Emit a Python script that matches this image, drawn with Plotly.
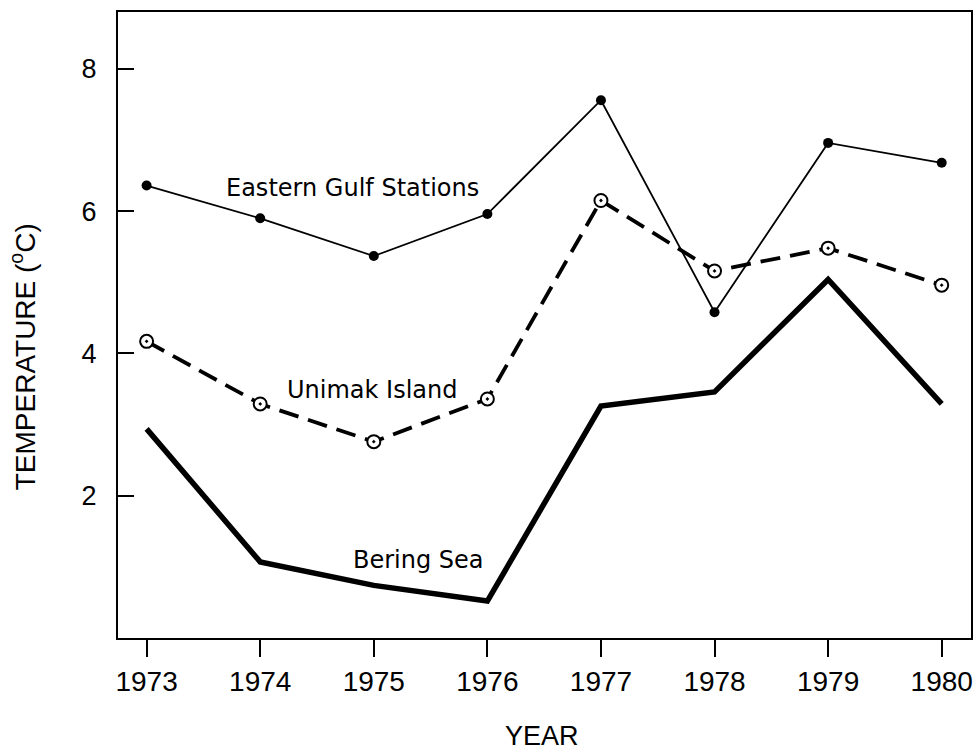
import plotly.graph_objects as go

years = [1973, 1974, 1975, 1976, 1977, 1978, 1979, 1980]
eastern_gulf = [6.36, 5.90, 5.37, 5.96, 7.56, 4.58, 6.96, 6.68]
unimak_island = [4.17, 3.29, 2.76, 3.36, 6.15, 5.16, 5.48, 4.96]
bering_sea = [2.94, 1.07, 0.74, 0.52, 3.26, 3.46, 5.04, 3.29]

series_labels = ["Eastern Gulf Stations", "Unimak Island", "Bering Sea"]
label_pos = [(1974.81, 6.33), (1974.98, 3.49), (1975.39, 1.09)]
y_ticks = [2, 4, 6, 8]

fig = go.Figure()
fig.add_trace(go.Scatter(x=years, y=bering_sea, mode="lines",
                         line=dict(color="black", width=5.5)))
fig.add_trace(go.Scatter(x=years, y=unimak_island, mode="lines+markers",
                         line=dict(color="black", width=3.8, dash="20px,10px"),
                         marker=dict(symbol="circle-dot", size=13, color="white",
                                     line=dict(color="black", width=2))))
fig.add_trace(go.Scatter(x=years, y=eastern_gulf, mode="lines+markers",
                         line=dict(color="black", width=1.8),
                         marker=dict(symbol="circle", size=10, color="black")))

for txt, (x, y) in zip(series_labels, label_pos):
    fig.add_annotation(x=x, y=y, text=txt, showarrow=False, xanchor="center", yanchor="middle",
                       font=dict(family="DejaVu Sans", size=24, color="black"))

# axis titles
fig.add_annotation(xref="paper", yref="paper", x=0.497, y=-0.1565, text="YEAR",
                   showarrow=False, xanchor="center", yanchor="middle",
                   font=dict(family="Liberation Sans, Arial", size=27, color="black"))
fig.add_annotation(xref="paper", yref="paper", x=-0.111, y=0.449,
                   text="TEMPERATURE (<sup>o</sup>C)", textangle=-90,
                   showarrow=False, xanchor="center", yanchor="middle",
                   font=dict(family="Liberation Sans, Arial", size=28, color="black"))

fig.update_layout(
    width=978, height=754,
    margin=dict(l=118, r=5, t=12, b=116),
    paper_bgcolor="white", plot_bgcolor="white",
    showlegend=False,
    font=dict(family="Liberation Sans, Arial", color="black"),
)
fig.update_xaxes(range=[1972.748, 1980.258], tickvals=years, ticktext=[str(y) for y in years],
                 ticks="outside", ticklen=17, tickwidth=2, tickcolor="black",
                 showline=True, linecolor="black", linewidth=2, mirror=True,
                 showgrid=False, zeroline=False,
                 tickfont=dict(size=28), ticklabelstandoff=0)
fig.update_yaxes(range=[0, 8.8], tickvals=y_ticks,
                 ticks="inside", ticklen=16, tickwidth=2, tickcolor="black",
                 showline=True, linecolor="black", linewidth=2, mirror=True,
                 showgrid=False, zeroline=False,
                 tickfont=dict(size=27), ticklabelstandoff=14)

fig.write_html("out.html", config={"displayModeBar": False},
               post_script="document.body.style.margin='0';document.body.style.overflow='hidden';")
